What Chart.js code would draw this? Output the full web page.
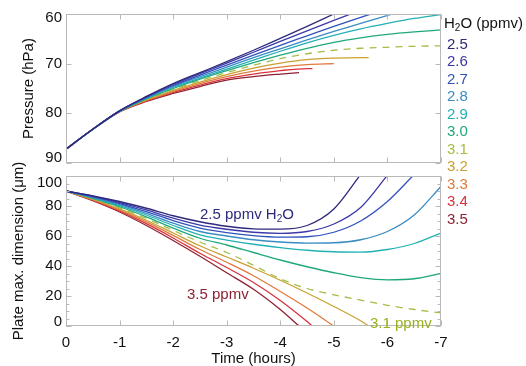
<!DOCTYPE html>
<html><head><meta charset="utf-8">
<script src="https://cdn.jsdelivr.net/npm/chart.js@4"></script>
<style>
html,body{margin:0;padding:0;background:#fff;}
#wrap{position:relative;width:526px;height:366px;overflow:hidden;font-family:"Liberation Sans",Arial,Helvetica,sans-serif;}
canvas{position:absolute;left:0;top:0;}
.lab{position:absolute;white-space:nowrap;font-size:15px;line-height:15px;}
.lab sub{font-size:10px;vertical-align:-3px;line-height:0;}
</style></head><body>
<div id="wrap">
<canvas id="topChart" width="526" height="366"></canvas>
<canvas id="botChart" width="526" height="366"></canvas>
</div>
<script>
// ---------------- DATA ----------------
const h2oLevels = ['2.5','2.6','2.7','2.8','2.9','3.0','3.1','3.2','3.3','3.4','3.5'];
const hours = [0,-0.5,-1,-1.5,-2,-2.5,-3,-3.5,-4,-4.5,-5,-5.5,-6,-6.5,-7];
// time (hours) at which a trajectory ends (plate sublimated); null = runs off the panel
const endHour = [null,null,null,null,null,null,null,-5.65,-5.0,-4.6,-4.35];
const endPressure = [null,null,null,null,null,null,null,68.8,70.0,71.0,71.8];
const endPlate = [null,null,null,null,null,null,null,0,0,0,0];

// Pressure (hPa) on the hours grid
const p25 = [87.2,83.2,79.5,76.6,74.0,71.8,69.6,67.3,64.9,62.5,60.0,57.5];
const p26 = [87.2,83.2,79.5,76.7,74.2,72.0,69.9,67.7,65.5,63.4,61.3,59.2];
const p27 = [87.2,83.2,79.5,76.8,74.4,72.3,70.3,68.3,66.3,64.4,62.5,60.7,58.9];
const p28 = [87.2,83.2,79.55,76.9,74.6,72.6,70.7,68.8,67.0,65.2,63.5,61.9,60.3,58.7];
const p29 = [87.2,83.2,79.55,77.0,74.8,72.9,71.1,69.3,67.5,65.8,64.3,63.0,61.9,60.9,60.1];
const p30 = [87.2,83.2,79.6,77.1,75.0,73.1,71.4,69.8,68.3,66.9,65.7,64.8,64.1,63.6,63.2];
const p31 = [87.2,83.2,79.6,77.2,75.2,73.4,71.8,70.3,69.0,68.0,67.3,66.9,66.7,66.5,66.4];
const p32 = [87.2,83.2,79.6,77.3,75.4,73.7,72.2,70.9,69.9,69.2,68.9,68.8];
const p33 = [87.2,83.2,79.65,77.4,75.6,74.0,72.6,71.5,70.7,70.2];
const p34 = [87.2,83.2,79.65,77.5,75.8,74.3,73.0,72.1,71.4,71.0];
const p35 = [87.2,83.2,79.7,77.6,76.0,74.6,73.3,72.6,72.1];

// Plate maximum dimension (µm) on the hours grid
const d25 = [90,86.8,83.0,78.5,73.5,69.5,66.5,64.8,64.6,67.0,78.0,101];
const d26 = [90,86.5,82.3,77.4,71.9,67.3,64.5,62.5,61.8,63.0,68.0,79.0,100.5];
const d27 = [90,86.2,81.6,76.2,70.3,65.3,62.3,60.2,59.2,59.5,62.5,70.0,83.0,101];
const d28 = [90,85.8,80.9,75.1,68.6,63.0,60.0,57.5,56.0,55.3,55.5,57.5,63.0,74.0,93.0];
const d29 = [90,85.5,80.2,74.0,67.0,60.8,57.3,54.5,52.3,50.5,49.5,49.3,51.0,55.0,62.0];
const d30 = [90,85.1,79.5,72.8,65.3,58.5,54.0,49.0,44.0,39.5,35.5,32.3,30.8,31.5,35.0];
const d31 = [90,84.8,78.8,71.7,63.7,56.0,49.0,40.5,31.5,25.0,20.8,17.3,13.8,11.0,8.7];
const d32 = [90,84.5,78.1,70.5,62.0,53.5,46.0,38.5,30.5,22.0,13.0,3.5];
const d33 = [90,84.2,77.4,69.4,60.4,51.0,42.5,33.5,23.0,12.0];
const d34 = [90,83.8,76.7,68.2,58.7,48.5,39.0,29.0,17.0,3.0];
const d35 = [90,83.5,76.0,67.0,57.0,46.5,35.5,24.5,11.0];

const pressureSeries = [p25,p26,p27,p28,p29,p30,p31,p32,p33,p34,p35];
const plateSeries = [d25,d26,d27,d28,d29,d30,d31,d32,d33,d34,d35];
const pressureTicks = [60,70,80,90];
const plateTicks = [0,20,40,60,80,100];
const hourTicks = [0,-1,-2,-3,-4,-5,-6,-7];

// ---------------- STYLE ----------------
const colors = ['#2e2a7c','#3d38a8','#3152bd','#3a8cc2','#22b0b4','#1fa97a','#a2bd45','#caa033','#e07a3c','#d8343f','#8e2232'];
const dashedIndex = 6;
const FONT = '"Liberation Sans", Arial, Helvetica, sans-serif';
const TXT = '#111';
const FRAME = '#b9b9b9';

function series(vals, i, endVals) {
  const pts = [];
  for (let k = 0; k < vals.length && k < hours.length; k++) {
    if (endHour[i] !== null && hours[k] <= endHour[i]) break;
    pts.push({x: hours[k], y: vals[k]});
  }
  if (endHour[i] !== null) pts.push({x: endHour[i], y: endVals[i]});
  return pts;
}

const frameTicks = {
  id: 'frameTicks',
  beforeDraw(chart, args, opts) {
    // nudge first/last y labels inside the frame (IDL style)
    try {
      const ys = chart.scales.y;
      const items = ys.getLabelItems(chart.chartArea);
      items.forEach(it => {
        const sh = (opts.labelShift || {})[String(it.label)];
        if (sh) it.options.translation[1] += sh;
      });
    } catch (e) {}
  },
  afterDatasetsDraw(chart, args, opts) {
    const {ctx, chartArea: a, scales} = chart;
    const xs = scales.x, ys = scales.y;
    ctx.save();
    ctx.strokeStyle = FRAME;
    ctx.lineWidth = 1;
    const L = Math.round(a.left) + 0.5, R = Math.round(a.right) - 0.5;
    const T = Math.round(a.top) + 0.5, B = Math.round(a.bottom) - 0.5;
    ctx.strokeRect(L, T, R - L, B - T);
    ctx.beginPath();
    for (let v = xs.max; v >= xs.min - 1e-9; v -= opts.xStep) {
      const px = Math.round(xs.getPixelForValue(v)) + 0.5;
      ctx.moveTo(px, B); ctx.lineTo(px, B - 5);
      ctx.moveTo(px, T); ctx.lineTo(px, T + 5);
    }
    for (let v = ys.min; v <= ys.max + 1e-9; v += opts.yStep) {
      const py = Math.round(ys.getPixelForValue(v)) + 0.5;
      ctx.moveTo(L, py); ctx.lineTo(L + 5, py);
      ctx.moveTo(R, py); ctx.lineTo(R - 5, py);
    }
    if (opts.yMinor) {
      for (let v = ys.min; v <= ys.max + 1e-9; v += opts.yMinor) {
        const py = Math.round(ys.getPixelForValue(v)) + 0.5;
        ctx.moveTo(L, py); ctx.lineTo(L + 3, py);
        ctx.moveTo(R, py); ctx.lineTo(R - 3, py);
      }
    }
    ctx.stroke();
    ctx.restore();
  }
};

function makeDatasets(src, endVals) {
  return h2oLevels.map((lvl, i) => ({
    label: lvl + ' ppmv',
    data: series(src[i], i, endVals),
    borderColor: colors[i],
    borderWidth: 1.3,
    borderDash: i === dashedIndex ? [7, 6] : [],
    pointRadius: 0,
    fill: false,
    cubicInterpolationMode: 'monotone'
  }));
}

const baseFont = {family: FONT, size: 15};

new Chart(document.getElementById('topChart'), {
  type: 'line',
  data: {datasets: makeDatasets(pressureSeries, endPressure)},
  options: {
    responsive: false, animation: false, devicePixelRatio: 1,
    layout: {padding: {left: 0, top: 14, right: 85, bottom: 203}},
    plugins: {legend: {display: false}, tooltip: {enabled: false},
      frameTicks: {xStep: 1, yStep: 10, labelShift: {'60': 3.5, '90': -5}}},
    scales: {
      x: {type: 'linear', min: -7, max: 0, reverse: true,
          ticks: {display: false}, grid: {display: false, drawTicks: false}, border: {display: false},
          afterFit(s) { s.height = 0; }},
      y: {type: 'linear', min: 60, max: 90, reverse: true,
          afterBuildTicks(s) { s.ticks = pressureTicks.map(v => ({value: v})); },
          ticks: {font: baseFont, color: TXT, padding: 4},
          grid: {display: false, drawTicks: false}, border: {display: false},
          title: {display: true, text: 'Pressure (hPa)', font: baseFont, color: TXT, padding: {top: 19.5, bottom: 0}},
          afterFit(s) { s.width = 66; }}
    }
  },
  plugins: [frameTicks]
});

new Chart(document.getElementById('botChart'), {
  type: 'line',
  data: {datasets: makeDatasets(plateSeries, endPlate)},
  options: {
    responsive: false, animation: false, devicePixelRatio: 1,
    layout: {padding: {left: 0, top: 176, right: 85, bottom: 0}},
    plugins: {legend: {display: false}, tooltip: {enabled: false},
      frameTicks: {xStep: 1, yStep: 20, yMinor: 5, labelShift: {'100': 6.5, '0': -4}}},
    scales: {
      x: {type: 'linear', min: -7, max: 0, reverse: true,
          afterBuildTicks(s) { s.ticks = hourTicks.map(v => ({value: v})); },
          ticks: {font: baseFont, color: TXT, padding: 8, maxRotation: 0},
          grid: {display: false, drawTicks: false}, border: {display: false},
          title: {display: true, text: 'Time (hours)', font: {family: FONT, size: 15, lineHeight: 1.0}, color: TXT, padding: {top: 0, bottom: 0}},
          afterFit(s) { s.height = 40; }},
      y: {type: 'linear', min: 0, max: 100,
          afterBuildTicks(s) { s.ticks = plateTicks.map(v => ({value: v})); },
          ticks: {font: baseFont, color: TXT, padding: 4},
          grid: {display: false, drawTicks: false}, border: {display: false},
          title: {display: true, text: 'Plate max. dimension (\u03bcm)', font: baseFont, color: TXT, padding: {top: 9.5, bottom: 0}},
          afterFit(s) { s.width = 66; }}
    }
  },
  plugins: [frameTicks]
});

// ---------------- TEXT (legend + annotations) ----------------
const wrap = document.getElementById('wrap');
function addLabel(html, left, centerY, color) {
  const d = document.createElement('div');
  d.className = 'lab';
  d.innerHTML = html;
  d.style.left = left + 'px';
  d.style.top = (centerY - 7.5) + 'px';
  d.style.color = color;
  wrap.appendChild(d);
}
addLabel('H<sub>2</sub>O (ppmv)', 444, 22.5, TXT);
h2oLevels.forEach((lvl, i) => addLabel(lvl, 447, 43 + 17.5 * i, colors[i]));
addLabel('2.5 ppmv H<sub>2</sub>O', 200, 213, colors[0]);
addLabel('3.5 ppmv', 187, 293, colors[10]);
addLabel('3.1 ppmv', 370, 322, '#98b020');
</script>
</body></html>
